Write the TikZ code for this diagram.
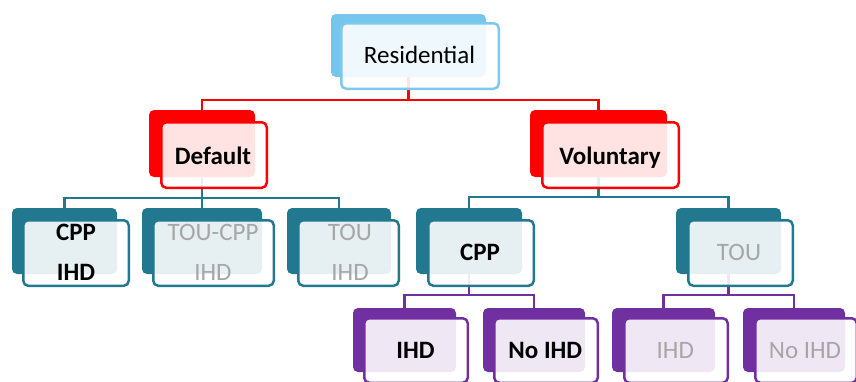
\documentclass[tikz,border=0pt]{standalone}
\usepackage{fontspec}
\setmainfont{Carlito}
\usetikzlibrary{fit}
\definecolor{cblue}{HTML}{75C5EC}
\definecolor{cblueline}{HTML}{7DC9EE}
\definecolor{cred}{HTML}{FF0000}
\definecolor{cteal}{HTML}{21788F}
\definecolor{cpurple}{HTML}{7030A0}
\definecolor{cgray}{HTML}{A6A6A6}
\tikzset{
  backbox/.style={inner sep=0pt, outer sep=0pt, rounded corners=5pt, draw=none},
  frontbox/.style={inner sep=-1.25pt, outer sep=0pt, rounded corners=5pt, line width=2.5pt, fill=white, fill opacity=0.89},
  conn/.style={line width=2.2pt},
  lbl/.style={anchor=base, inner sep=0pt, font=\fontsize{25}{30}\selectfont, text=black},
  lblb/.style={lbl, font=\fontsize{25}{30}\selectfont\bfseries},
  lblg/.style={lbl, text=cgray},
}
\newcommand\backbox[4]{\node[backbox, fill=#2, fit={#3 #4}] (#1b) {};}
\newcommand\frontbox[4]{\node[frontbox, draw=#2, fit={#3 #4}] (#1f) {};}
\begin{document}
\begin{tikzpicture}[x=1pt,y=-1pt]
\useasboundingbox (0,0) rectangle (856,381);
\clip (0,0) rectangle (856,381);
% back boxes
\backbox{res}{cblue}{(331,14)}{(486,77)}
\backbox{def}{cred}{(149,110)}{(255,177)}
\backbox{vol}{cred}{(530,110)}{(667,177)}
\backbox{cppihd}{cteal}{(12,208)}{(117,274)}
\backbox{toucpp}{cteal}{(142,208)}{(262,274)}
\backbox{touihd}{cteal}{(287,208)}{(391,274)}
\backbox{cpp}{cteal}{(416,208)}{(522,274)}
\backbox{tou}{cteal}{(676,208)}{(781,274)}
\backbox{ihda}{cpurple}{(353,308)}{(456,372)}
\backbox{noihda}{cpurple}{(483,308)}{(585,372)}
\backbox{ihdb}{cpurple}{(612,308)}{(715,372)}
\backbox{noihdb}{cpurple}{(743,308)}{(845,372)}
% connectors
\draw[conn, cred] (resb.south) -- ++(0,23) coordinate (rj) -| (defb.north);
\draw[conn, cred] (rj) -| (volb.north);
\draw[conn, cteal] (defb.south) -- ++(0,21) coordinate (dj) -| (cppihdb.north);
\draw[conn, cteal] (dj) -| (touihdb.north);
\draw[conn, cteal] (dj) -- (toucppb.north);
\draw[conn, cteal] (volb.south) -- ++(0,20) coordinate (vj) -| (cppb.north);
\draw[conn, cteal] (vj) -| (toub.north);
\draw[conn, cpurple] (cppb.south) -- ++(0,21) coordinate (cj) -| (ihdab.north);
\draw[conn, cpurple] (cj) -| (noihdab.north);
\draw[conn, cpurple] (toub.south) -- ++(0,21) coordinate (tj) -| (ihdbb.north);
\draw[conn, cpurple] (tj) -| (noihdbb.north);
% front boxes
\frontbox{res}{cblueline}{(340,22)}{(500,90)}
\frontbox{def}{cred}{(160,121)}{(268,189)}
\frontbox{vol}{cred}{(541,121)}{(680,189)}
\frontbox{cppihd}{cteal}{(22,219)}{(130,287)}
\frontbox{toucpp}{cteal}{(152,219)}{(275,287)}
\frontbox{touihd}{cteal}{(297,219)}{(400,287)}
\frontbox{cpp}{cteal}{(427,219)}{(535,287)}
\frontbox{tou}{cteal}{(687,219)}{(794,287)}
\frontbox{ihda}{cpurple}{(363,317)}{(469,384)}
\frontbox{noihda}{cpurple}{(493,317)}{(599,384)}
\frontbox{ihdb}{cpurple}{(623,317)}{(729,384)}
\frontbox{noihdb}{cpurple}{(754,317)}{(858,384)}
% labels
\node[lbl] (tres) at (419.5,63.3) {Residential};
\node[lblb] (tdef) at (213,164) {Default};
\node[lblb] (tvol) at (610,164) {Voluntary};
\node[lblb] (tcppihd1) at (76,240.7) {CPP};
\node[lblb] (tcppihd2) at (76,280) {IHD};
\node[lblg] (ttoucpp1) at (213,240.7) {TOU-CPP};
\node[lblg] (ttoucpp2) at (213,280) {IHD};
\node[lblg] (ttouihd1) at (350,240.7) {TOU};
\node[lblg] (ttouihd2) at (350,280) {IHD};
\node[lblb] (tcpp) at (480,260) {CPP};
\node[lblg] (ttou) at (739,260) {TOU};
\node[lblb] (tihda) at (415.5,358.3) {IHD};
\node[lblb] (tnoihda) at (545.3,358.3) {No IHD};
\node[lblg] (tihdb) at (675.3,358.3) {IHD};
\node[lblg] (tnoihdb) at (805,358.3) {No IHD};
\end{tikzpicture}
\end{document}
